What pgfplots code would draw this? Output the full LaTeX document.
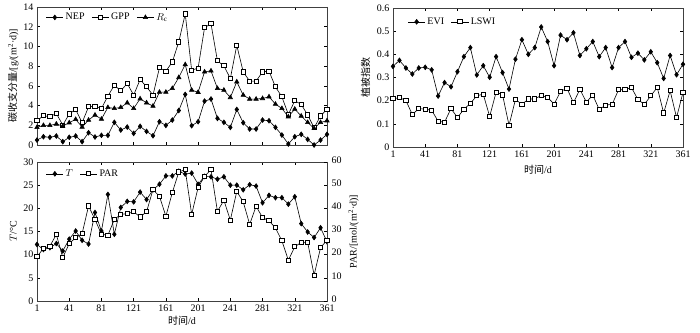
\documentclass[border=0pt]{standalone}
\usepackage{pgfplots}
\pgfplotsset{compat=1.18}
\usepackage{pgfplotstable}
\usepackage{fontspec}
\setmainfont{Liberation Serif}
\newfontfamily\cjk{Noto Sans CJK SC}

\pgfplotstableread{
x NEP GPP Rc
1 0.50 2.46 1.79
9 0.84 2.97 1.99
17 0.78 2.87 1.99
25 0.91 3.20 2.13
33 0.34 2.02 1.92
41 0.78 3.14 2.26
49 0.91 3.61 2.60
57 0.34 2.26 1.82
65 1.25 3.88 2.53
73 0.81 3.95 3.04
81 0.98 3.71 2.63
89 0.98 4.96 3.81
97 2.30 6.07 3.71
105 1.52 5.50 3.81
113 1.82 6.24 4.28
121 1.18 5.06 3.71
129 1.89 6.65 4.69
137 1.38 5.90 4.28
145 0.94 5.06 3.95
153 2.36 7.83 5.36
161 1.99 7.49 5.36
169 2.53 8.43 5.74
177 3.50 10.46 6.85
185 5.13 13.30 8.16
193 1.96 7.59 5.57
201 2.36 7.80 5.35
209 4.45 11.90 7.42
217 4.66 12.30 7.52
225 2.70 8.54 5.74
233 2.30 8.03 5.57
241 1.79 6.75 4.82
249 3.60 10.10 6.41
257 2.26 7.42 5.06
265 1.62 6.48 4.66
273 1.62 6.48 4.66
281 2.53 7.42 4.72
289 2.46 7.49 4.89
297 1.79 5.90 4.15
305 1.01 4.89 3.71
313 0.10 3.10 2.87
321 0.84 4.49 3.64
329 1.08 4.12 2.94
337 0.57 3.04 2.29
345 0.00 1.75 1.69
353 0.50 2.94 2.29
361 1.08 3.64 2.46
}\carbon

\pgfplotstableread{
x EVI LSWI
1 0.348 0.208
9 0.374 0.213
17 0.341 0.201
25 0.315 0.140
33 0.341 0.166
41 0.344 0.163
49 0.333 0.159
57 0.220 0.111
65 0.278 0.107
73 0.260 0.166
81 0.325 0.127
89 0.390 0.163
97 0.429 0.188
105 0.311 0.221
113 0.351 0.228
121 0.301 0.132
129 0.390 0.237
137 0.321 0.225
145 0.250 0.094
153 0.379 0.205
161 0.463 0.184
169 0.400 0.207
177 0.429 0.207
185 0.518 0.223
193 0.455 0.214
201 0.351 0.185
209 0.483 0.240
217 0.463 0.253
225 0.493 0.191
233 0.395 0.249
241 0.424 0.194
249 0.455 0.224
257 0.390 0.162
265 0.429 0.181
273 0.343 0.184
281 0.429 0.247
289 0.455 0.247
297 0.387 0.257
305 0.405 0.205
313 0.376 0.184
321 0.411 0.221
329 0.364 0.257
337 0.296 0.147
345 0.395 0.243
353 0.312 0.127
361 0.357 0.236
}\veg

\pgfplotstableread{
x T PAR
1 12.2 19.1
9 11.1 22.7
17 11.5 23.7
25 12.4 28.7
33 10.8 18.7
41 13.35 24.8
49 15.1 27.3
57 13.1 29.1
65 12.3 41.0
73 19.1 35.2
81 15.1 28.8
89 23.0 28.4
97 14.4 35.2
105 20.2 37.4
113 21.5 37.7
121 21.4 38.5
129 23.5 36.3
137 21.9 38.5
145 24.0 48.1
153 25.2 45.2
161 27.0 36.6
169 27.0 46.8
177 28.0 55.7
185 27.4 56.7
193 27.6 37.4
201 25.2 49.0
209 26.9 53.8
217 26.8 56.7
225 26.3 38.7
233 26.8 43.5
241 25.0 34.9
249 25.0 47.3
257 24.0 42.8
265 25.1 33.1
273 24.8 40.9
281 21.2 36.0
289 22.8 34.6
297 22.3 31.6
305 22.3 26.0
313 20.9 17.6
321 22.5 23.4
329 16.7 25.3
337 14.9 25.3
345 13.7 11.2
353 15.8 23.0
361 12.8 26.3
}\climate

\pgfplotsset{
  panel/.style={
    scale only axis, width=290pt,
    xmin=1, xmax=361, xtick={1,41,...,361},
    tick align=inside, major tick length=3pt,
    axis line style={black!75, line width=0.6pt},
    tick style={black, line width=0.5pt},
    font=\fontsize{10}{12}\selectfont,
    /pgf/number format/assume math mode=true,
    legend style={draw=none, fill=none, font=\fontsize{10}{12}\selectfont,
      legend columns=-1, /tikz/every even column/.append style={column sep=5pt}},
    legend image post style={line width=0.6pt},
  },
  dia/.style={black, line width=0.6pt, mark=diamond*, mark size=2.4pt, mark options={fill=black, solid}},
  sq/.style={black, line width=0.6pt, mark=square*, mark size=2.1pt, mark options={fill=white, draw=black, line width=0.9pt, solid}},
  tri/.style={black, line width=0.6pt, mark=triangle*, mark size=2.5pt, mark options={fill=black, solid}},
}

\begin{document}
\begin{tikzpicture}
\useasboundingbox (0pt,0pt) rectangle (700pt,332pt);

% top-left: carbon fluxes
\begin{axis}[panel, at={(37pt,187pt)}, anchor=south west, height=138pt,
  ymin=0, ymax=14, ytick={0,2,...,14}, xticklabels={},
  ylabel={{\cjk 碳收支分量}/[g/(m\textsuperscript{2}·d)]},
  ylabel style={yshift=-2pt},
  legend style={at={(0.02,0.985)}, anchor=north west}]
\addplot[dia] table[x=x,y=NEP] {\carbon};
\addplot[sq] table[x=x,y=GPP] {\carbon};
\addplot[tri] table[x=x,y=Rc] {\carbon};
\legend{NEP, GPP, $R_\mathrm{c}$}
\end{axis}

% top-right: vegetation indices
\begin{axis}[panel, at={(393pt,185pt)}, anchor=south west, height=139pt,
  ymin=0, ymax=0.6, ytick={0,0.1,...,0.6},
  yticklabel style={/pgf/number format/fixed, /pgf/number format/precision=1},
  xlabel={{\cjk 时间}/d}, ylabel={\cjk 植被指数},
  xlabel style={yshift=-1pt},
  legend style={at={(0.04,0.96)}, anchor=north west}]
\addplot[dia] table[x=x,y=EVI] {\veg};
\addplot[sq] table[x=x,y=LSWI] {\veg};
\legend{EVI, LSWI}
\end{axis}

% bottom-left: T and PAR
\begin{axis}[panel, at={(37pt,31pt)}, anchor=south west, height=139pt,
  ymin=0, ymax=30, ytick={0,5,...,30}, ytick pos=left,
  xlabel={{\cjk 时间}/d}, ylabel={$T$/°C},
  xlabel style={yshift=2pt},
  legend style={at={(0.02,0.975)}, anchor=north west}]
\addplot[dia] table[x=x,y=T] {\climate};
\addlegendentry{$T$}
\addlegendimage{sq}
\addlegendentry{PAR}
\end{axis}
\begin{axis}[panel, at={(37pt,31pt)}, anchor=south west, height=139pt,
  ymin=0, ymax=60, ytick={0,10,...,60},
  axis y line*=right, axis x line=none,
  yticklabel style={xshift=1pt, yshift=2pt},
  ylabel={PAR/[mol/(m\textsuperscript{2}·d)]}]
\addplot[sq] table[x=x,y=PAR] {\climate};
\end{axis}
\end{tikzpicture}
\end{document}
